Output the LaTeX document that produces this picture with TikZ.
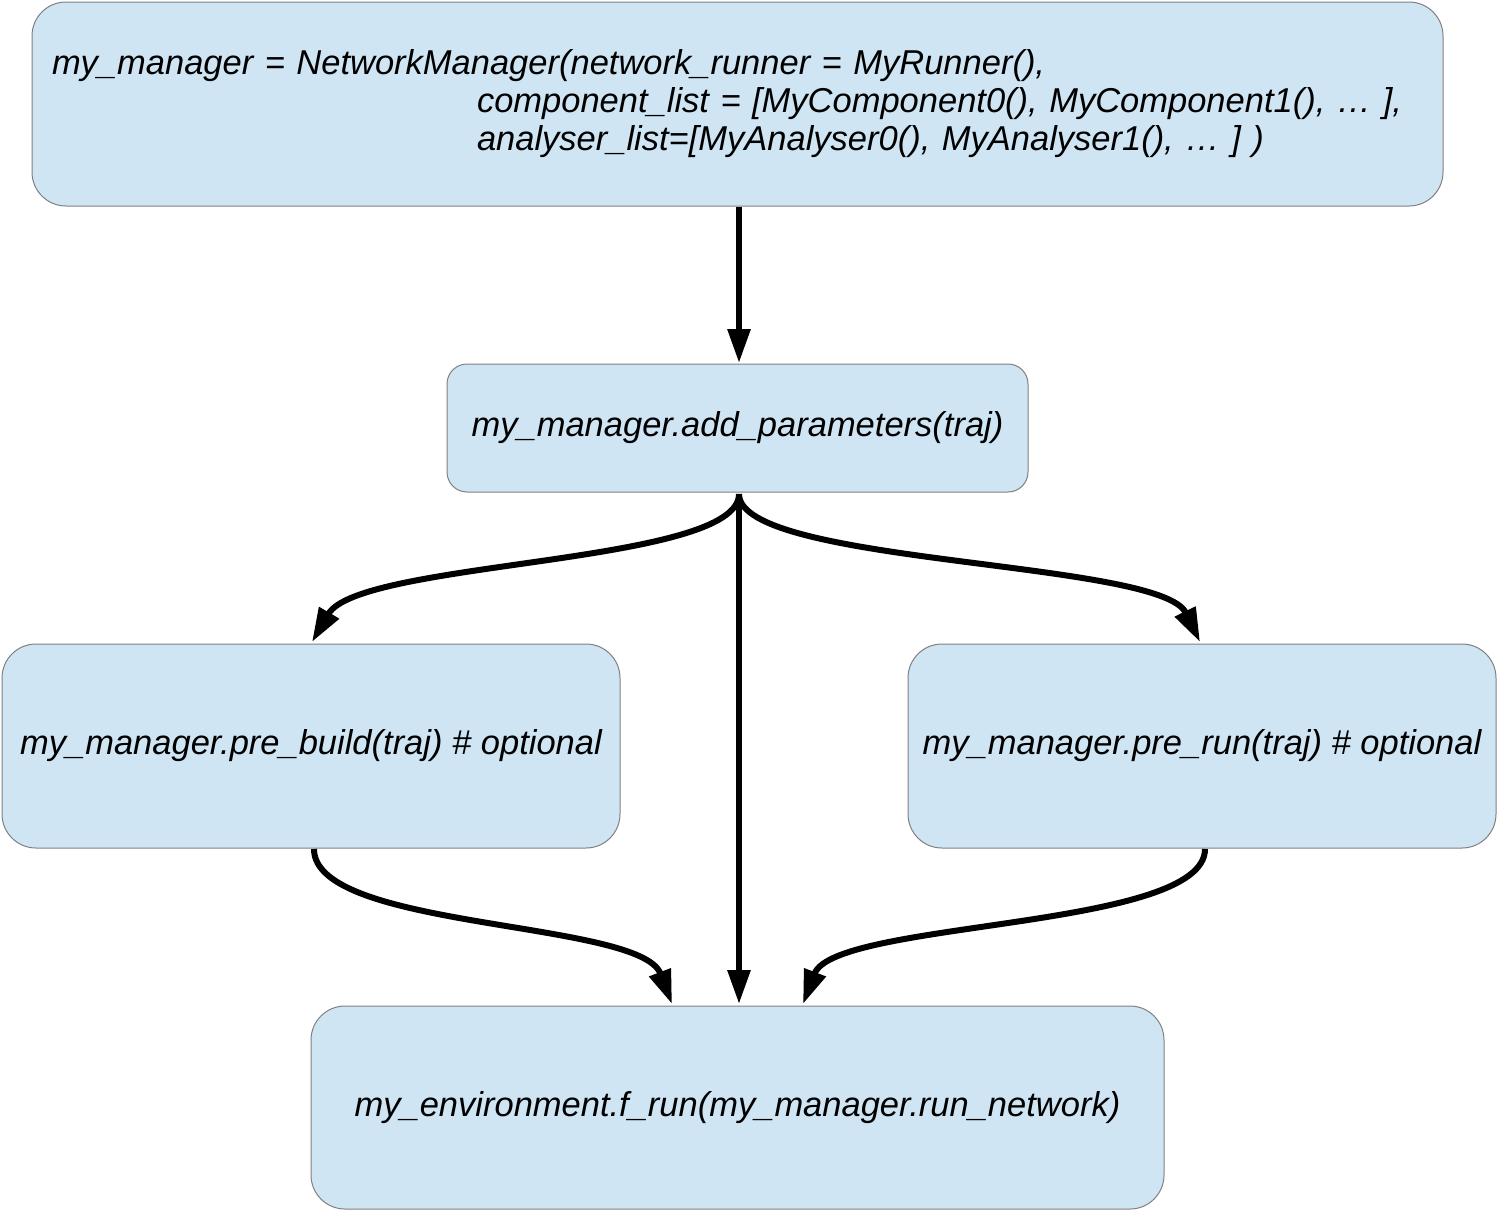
\documentclass[tikz,border=0pt]{standalone}
\usepackage{fontspec}
\setmainfont{Liberation Sans}
\usetikzlibrary{arrows.meta}
\definecolor{boxfill}{RGB}{207,229,243}
\definecolor{boxline}{RGB}{128,128,128}
\tikzset{
  box/.style={draw=boxline, line width=0.5pt, fill=boxfill, rounded corners=17pt,
    font=\fontsize{17.25}{19}\selectfont\itshape, inner sep=0pt, align=center},
  conn/.style={line width=3pt, -{Triangle[width=11pt,length=17pt]}}
}
\begin{document}
\begin{tikzpicture}[x=0.5pt,y=-0.5pt]
\useasboundingbox (0,0) rectangle (1498,1211);
\node[box, minimum width=705.5pt, minimum height=102pt, text width=685.5pt, inner xsep=10pt, align=left] (top) at (737.5,104)
  {my\_manager = NetworkManager(network\_runner = MyRunner(),\\
   \hspace*{212.5pt}component\_list = [MyComponent0(), MyComponent1(), \ldots\ ],\\
   \hspace*{212.5pt}analyser\_list=[MyAnalyser0(), MyAnalyser1(), \ldots\ ] )};
\node[box, rounded corners=10pt, minimum width=290.5pt, minimum height=64pt] (mid) at (737.5,428)
  {my\_manager.add\_parameters(traj)};
\node[box, minimum width=309pt, minimum height=102pt] (left) at (311,746)
  {my\_manager.pre\_build(traj) \# optional};
\node[box, minimum width=294pt, minimum height=102pt] (right) at (1202,746)
  {my\_manager.pre\_run(traj) \# optional};
\node[box, minimum width=426.5pt, minimum height=101.5pt] (bot) at (737.5,1107.5)
  {my\_environment.f\_run(my\_manager.run\_network)};
\coordinate (ms) at (739,494);
\coordinate (lt) at (312,642);
\coordinate (rt) at (1200,642);
\coordinate (bl) at (672,1004);
\coordinate (bm) at (739,1004);
\coordinate (br) at (803,1004);
\coordinate (ls) at (314,849);
\coordinate (rs) at (1205,849);
\coordinate (ts) at (739,207);
\coordinate (mt) at (739,363);
\draw[conn] (ts) -- (mt);
\draw[conn] (ms) -- (bm);
\draw[conn] (ms) .. controls (739,565) and (360,560) .. (lt);
\draw[conn] (ms) .. controls (739,565) and (1160,560) .. (rt);
\draw[conn] (ls) .. controls (314,930) and (640,920) .. (bl);
\draw[conn] (rs) .. controls (1205,930) and (835,920) .. (br);
\end{tikzpicture}
\end{document}
